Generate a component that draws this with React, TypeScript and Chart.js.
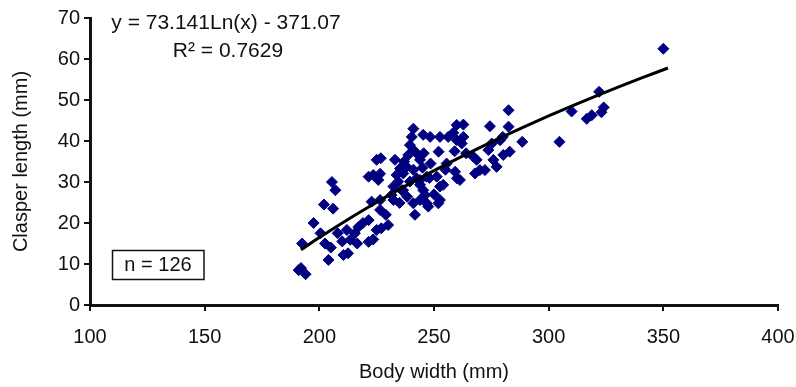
import React, { useEffect, useRef } from "react";
import { Chart, registerables } from "chart.js";

Chart.register(...registerables);

// Body width (mm) of each specimen
const bodyWidth: number[] = [
  192, 194, 191, 192.5, 197.5, 200.5, 202.5, 205, 204, 202,
  206, 205.5, 207, 210.5, 212.5, 208, 212, 215.5, 213.5, 210,
  216.5, 217, 219, 221.5, 221.5, 223.5, 225, 227, 230, 221.5,
  223.5, 225, 222.8, 226.5, 226.5, 232.3, 226.8, 233, 226.5, 225.7,
  235.2, 233.7, 236.6, 234.4, 238.1, 232.3, 235.9, 231.5, 239.5, 242.4,
  243.9, 246.8, 245.3, 252.6, 251.2, 243.9, 241, 252.6, 247.5, 241.7,
  236.5, 238.3, 235, 241, 240.3, 239.5, 241, 238.8, 242.4, 243.9,
  248.3, 252.6, 256.2, 259.9, 245.3, 258.4, 262.8, 259.9, 262.1, 262.8,
  274.4, 282.5, 282.5, 288.5, 283, 280.2, 275.2, 273.7, 275.9, 277.3,
  270, 267.9, 272.2, 268.6, 267.1, 278.8, 280, 259.2, 260, 261.3,
  254, 246.8, 246.1, 243.9, 251.9, 304.7, 310, 316.6, 318.8, 322,
  323, 324, 350, 252, 245.5, 259, 248.5, 255.5, 245, 255,
  241, 237, 264, 229, 248, 250,
];

// Clasper length (mm) of each specimen
const clasperLength: number[] = [
  9, 7.5, 8.5, 15, 20, 17.5, 15, 14, 11, 24.5,
  23.5, 30, 28, 12.2, 12.6, 17.5, 18.3, 17.5, 15.9, 15.5,
  15, 19, 20, 20.7, 15.4, 16, 18.3, 18.7, 19.5, 31.3,
  31.7, 35.4, 25.2, 25.6, 23.2, 25.6, 35.8, 35.4, 32, 30.5,
  33.3, 31.7, 32.1, 30.1, 33.7, 28.9, 28, 26.8, 30.1, 30.9,
  29.3, 31.3, 28, 28.9, 31.3, 25.6, 24.8, 25.6, 24, 22,
  28, 26.4, 24.9, 43, 41, 39, 37.8, 36.6, 37, 35.4,
  41, 41, 41, 43.9, 41.5, 42, 41, 40.2, 39.4, 44,
  43.6, 43.5, 47.5, 39.8, 37.4, 36.6, 39.4, 37.8, 35.4, 33.7,
  32.9, 32.1, 32.9, 35.4, 36.2, 40.2, 41, 32.5, 30.9, 30.5,
  29.3, 24.8, 26.8, 30.5, 24.8, 39.8, 47.2, 45.4, 46.3, 52,
  47, 48.2, 62.5, 37.4, 37, 37.5, 34.5, 34.5, 33.5, 33,
  33, 35, 37, 22, 31, 27,
];

// Logarithmic trend line y = 73.141 ln(x) - 371.07, read at these widths
const trendX: number[] = [192, 200, 210, 220, 230, 240, 250, 260, 270, 280, 290, 300, 310, 320, 330, 340, 352];
const trendY: number[] = [13.47, 16.45, 20.02, 23.42, 26.67, 29.79, 32.77, 35.64, 38.4, 41.06, 43.63, 46.11, 48.51, 50.83, 53.08, 55.26, 57.8];

const xTicks: number[] = [100, 150, 200, 250, 300, 350, 400];
const yTicks: number[] = [0, 10, 20, 30, 40, 50, 60, 70];

const equationText = "y = 73.141Ln(x) - 371.07";
const r2Text = "R\u00B2 = 0.7629";
const nText = "n = 126";

const FONT = "Arial, 'Liberation Sans', sans-serif";

const annotationPlugin = {
  id: "annotations",
  afterDatasetsDraw(chart: any) {
    const ctx = chart.ctx as CanvasRenderingContext2D;
    ctx.save();
    ctx.fillStyle = "#111";
    ctx.font = `21px ${FONT}`;
    ctx.textAlign = "center";
    ctx.textBaseline = "middle";
    ctx.fillText(equationText, 226, 23);
    ctx.fillText(r2Text, 228, 51);
    // n box
    ctx.strokeStyle = "#111";
    ctx.lineWidth = 1.5;
    ctx.strokeRect(112.5, 250.5, 91.5, 29);
    ctx.font = `20px ${FONT}`;
    ctx.fillText(nText, 158, 265.5);
    ctx.restore();
  },
};

export default function App() {
  const canvasRef = useRef<HTMLCanvasElement | null>(null);

  useEffect(() => {
    const canvas = canvasRef.current;
    if (!canvas) return;
    const scatter = bodyWidth.map((x, i) => ({ x, y: clasperLength[i] }));
    const trend = trendX.map((x, i) => ({ x, y: trendY[i] }));

    const chart = new Chart(canvas, {
      type: "scatter",
      data: {
        datasets: [
          {
            label: "Trend",
            data: trend,
            showLine: true,
            borderColor: "#000",
            borderWidth: 3,
            pointRadius: 0,
            cubicInterpolationMode: "monotone",
            order: 0,
          } as any,
          {
            label: "Clasper length",
            data: scatter,
            pointStyle: "rectRot",
            pointRadius: 5.5,
            borderWidth: 1,
            backgroundColor: "#000080",
            borderColor: "#000080",
            order: 1,
          } as any,
        ],
      },
      options: {
        animation: false,
        responsive: false,
        maintainAspectRatio: false,
        events: [],
        layout: { padding: { left: 0, top: 18, right: 18, bottom: 0 } },
        plugins: {
          legend: { display: false },
          tooltip: { enabled: false },
        },
        scales: {
          x: {
            type: "linear",
            min: 100,
            max: 400,
            afterBuildTicks: (scale: any) => {
              scale.ticks = xTicks.map((v) => ({ value: v }));
            },
            afterFit: (scale: any) => {
              scale.height = 82;
              scale.paddingLeft = 0;
              scale.paddingRight = 0;
            },
            border: { display: true, color: "#111", width: 3 },
            grid: {
              display: true,
              drawOnChartArea: false,
              drawTicks: true,
              tickLength: 6,
              color: "#111",
              lineWidth: 2,
            },
            ticks: {
              color: "#111",
              font: { family: FONT, size: 20 },
              padding: 14,
              maxRotation: 0,
              autoSkip: false,
            },
            title: {
              display: true,
              text: "Body width (mm)",
              color: "#111",
              font: { family: FONT, size: 20 },
              padding: { top: 0, bottom: 3 },
            },
          },
          y: {
            type: "linear",
            min: 0,
            max: 70,
            afterBuildTicks: (scale: any) => {
              scale.ticks = yTicks.map((v) => ({ value: v }));
            },
            afterFit: (scale: any) => {
              scale.width = 90;
              scale.paddingTop = 0;
              scale.paddingBottom = 0;
            },
            border: { display: true, color: "#111", width: 3 },
            grid: {
              display: true,
              drawOnChartArea: false,
              drawTicks: true,
              tickLength: 6,
              color: "#111",
              lineWidth: 2,
            },
            ticks: {
              color: "#111",
              font: { family: FONT, size: 20 },
              padding: 4,
              autoSkip: false,
            },
            title: {
              display: true,
              text: "Clasper length (mm)",
              color: "#111",
              font: { family: FONT, size: 20 },
              padding: { top: 9, bottom: 0 },
            },
          },
        },
      },
      plugins: [annotationPlugin],
    });

    return () => {
      chart.destroy();
    };
  }, []);

  return (
    <div style={{ position: "fixed", left: 0, top: 0, width: 796, height: 387, background: "#fff" }}>
      <canvas ref={canvasRef} width={796} height={387} style={{ display: "block", width: 796, height: 387 }} />
    </div>
  );
}
